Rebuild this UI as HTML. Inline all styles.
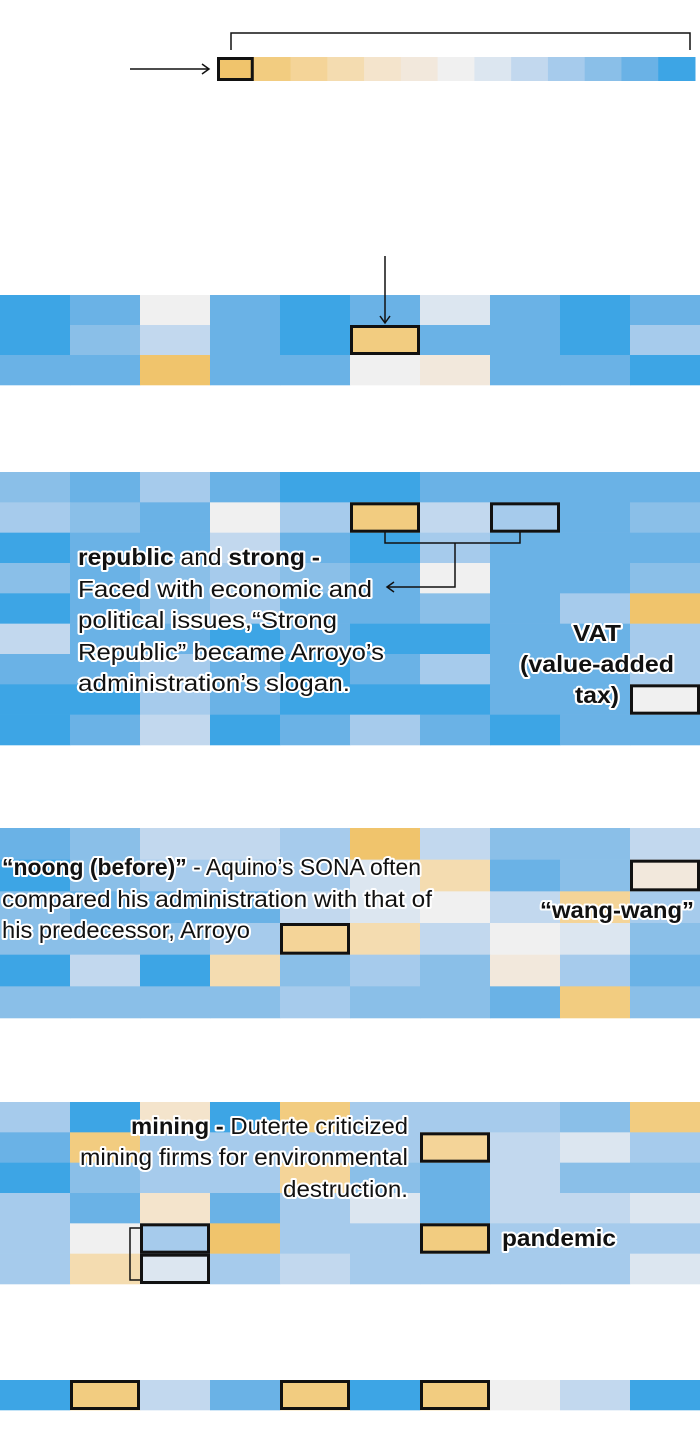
<!DOCTYPE html>
<html><head><meta charset="utf-8"><style>
html,body{margin:0;padding:0;background:#fff;}
svg{display:block;}
.t{font-family:"Liberation Sans",sans-serif;font-size:23px;fill:#111;stroke:#fff;stroke-width:4px;paint-order:stroke;stroke-linejoin:round;}
.b{font-weight:bold;}
</style></head><body>
<svg id="chart" width="700" height="1444">
<g id="legend"></g>
<g id="cells"></g>
<g id="hl"></g>
<g id="ann">
 <line x1="130" y1="69" x2="208" y2="69" stroke="#111" stroke-width="1.5"/>
 <path d="M202,64 L209,69 L202,74" fill="none" stroke="#111" stroke-width="1.5"/>
 <path d="M231,50 V33 H690 V50" fill="none" stroke="#111" stroke-width="1.5"/>
 <line x1="385" y1="256" x2="385" y2="322" stroke="#111" stroke-width="1.5"/>
 <path d="M380,316 L385,323 L390,316" fill="none" stroke="#111" stroke-width="1.5"/>
 <path d="M385,532 V543 H520 V532 M455,543 V587 H388" fill="none" stroke="#111" stroke-width="1.5"/>
 <path d="M394,582 L387,587 L394,592" fill="none" stroke="#111" stroke-width="1.5"/>
 <path d="M140,1228 H130 V1280 H140" fill="none" stroke="#111" stroke-width="1.5"/>
 <text class="t" x="78" y="565" textLength="242" lengthAdjust="spacingAndGlyphs"><tspan class="b">republic</tspan> and <tspan class="b">strong -</tspan></text>
 <text class="t" x="78" y="597" textLength="294" lengthAdjust="spacingAndGlyphs">Faced with economic and</text>
 <text class="t" x="78" y="628" textLength="259" lengthAdjust="spacingAndGlyphs">political issues,“Strong</text>
 <text class="t" x="78" y="660" textLength="306" lengthAdjust="spacingAndGlyphs">Republic” became Arroyo’s</text>
 <text class="t" x="78" y="691" textLength="272" lengthAdjust="spacingAndGlyphs">administration’s slogan.</text>
 <text class="t b" x="573" y="641" textLength="48" lengthAdjust="spacingAndGlyphs">VAT</text>
 <text class="t b" x="520" y="672" textLength="154" lengthAdjust="spacingAndGlyphs">(value-added</text>
 <text class="t b" x="575" y="703" textLength="44" lengthAdjust="spacingAndGlyphs">tax)</text>
 <text class="t" x="2" y="875" textLength="419" lengthAdjust="spacingAndGlyphs"><tspan class="b">“noong (before)”</tspan> - Aquino’s SONA often</text>
 <text class="t" x="2" y="907" textLength="430" lengthAdjust="spacingAndGlyphs">compared his administration with that of</text>
 <text class="t" x="2" y="938" textLength="248" lengthAdjust="spacingAndGlyphs">his predecessor, Arroyo</text>
 <text class="t b" x="540" y="918" textLength="154" lengthAdjust="spacingAndGlyphs">“wang-wang”</text>
 <text class="t" x="131" y="1134" textLength="277" lengthAdjust="spacingAndGlyphs"><tspan class="b">mining -</tspan> Duterte criticized</text>
 <text class="t" x="80" y="1165" textLength="328" lengthAdjust="spacingAndGlyphs">mining firms for environmental</text>
 <text class="t" x="283" y="1197" textLength="125" lengthAdjust="spacingAndGlyphs">destruction.</text>
 <text class="t b" x="502" y="1246" textLength="114" lengthAdjust="spacingAndGlyphs">pandemic</text>
</g>
</svg>
<script>
const palette = ["#f0c46c","#f2cc80","#f4d498","#f4dcb0","#f4e4cc","#f2e8dc","#f0f0f0","#dce6f0","#c2d8ee","#a6cbec","#8abfe8","#6ab2e6","#3da5e5"];
const legendValues = [0,1,2,3,4,5,6,7,8,9,10,11,12];
const s1 = [
 [12,11,6,11,12,11,7,11,12,11],
 [12,10,8,11,12,1,11,11,12,9],
 [11,11,0,11,11,6,5,11,11,12]];
const s2 = [
 [10,11,9,11,12,12,11,11,11,11],
 [9,10,11,6,9,1,8,9,11,10],
 [12,11,11,8,11,12,9,11,11,11],
 [10,11,10,9,10,11,6,11,11,10],
 [12,11,10,9,11,11,10,11,9,0],
 [8,11,11,12,11,12,12,11,11,9],
 [11,11,9,11,12,11,9,11,11,9],
 [12,12,9,11,12,12,12,11,11,6],
 [12,11,8,12,11,9,11,12,11,11]];
const s3 = [
 [11,10,8,8,9,0,8,10,10,8],
 [12,10,9,9,9,7,3,11,10,5],
 [10,11,11,11,8,7,6,8,2,9],
 [10,10,10,9,2,3,8,6,7,10],
 [12,8,12,3,10,9,10,5,9,11],
 [10,10,10,10,9,10,10,11,1,10]];
const s4 = [
 [9,12,4,12,1,9,9,9,10,1],
 [11,1,9,9,9,9,2,8,7,9],
 [12,10,9,9,2,10,11,8,10,10],
 [9,11,4,11,9,7,11,8,8,7],
 [9,6,9,0,9,9,1,9,9,9],
 [9,3,7,9,8,9,9,9,9,7]];
const s5 = [[12,1,8,11,1,12,1,6,8,12]];
const sections = [s1,s2,s3,s4,s5];
const highlights = [[0,1,5],[1,1,5],[1,1,7],[1,7,9],[2,1,9],[2,3,4],[3,1,6],[3,4,6],[3,4,2],[3,5,2],[4,0,1],[4,0,4],[4,0,6]];
// layout
const secY = [295,472,828,1102,1380];
const secH = [90,273,190,182,30];
const colW = 70;
const NS="http://www.w3.org/2000/svg";
function xPos(c){return c*colW;}
function yPos(s,r){return secY[s]+r*secH[s]/sections[s].length;}
function rowH(s){return secH[s]/sections[s].length;}
const lg=document.getElementById('legend');
const lx0=217, lw=(695-217)/legendValues.length;
legendValues.forEach((v,i)=>{
 const r=document.createElementNS(NS,'rect');
 r.setAttribute('x',lx0+i*lw);r.setAttribute('y',57);r.setAttribute('width',lw+0.5);r.setAttribute('height',24);
 r.setAttribute('fill',palette[v]);
 
 
 lg.appendChild(r);
});
const lb=document.createElementNS(NS,'rect');
lb.setAttribute('x',lx0+1.5);lb.setAttribute('y',58.5);lb.setAttribute('width',lw-3);lb.setAttribute('height',21);
lb.setAttribute('fill','none');lb.setAttribute('stroke','#111');lb.setAttribute('stroke-width','3');


lg.appendChild(lb);
const cg=document.getElementById('cells');
sections.forEach((sec,s)=>{
 sec.forEach((row,r)=>{
  row.forEach((v,c)=>{
   const e=document.createElementNS(NS,'rect');
   e.setAttribute('x',xPos(c));e.setAttribute('y',yPos(s,r));
   e.setAttribute('width',colW+0.3);e.setAttribute('height',rowH(s)+0.3);
   e.setAttribute('fill',palette[v]);
   
   
   cg.appendChild(e);
  });
 });
});
const hg=document.getElementById('hl');
highlights.forEach(([s,r,c])=>{
 const e=document.createElementNS(NS,'rect');
 e.setAttribute('x',xPos(c)+1.5);e.setAttribute('y',yPos(s,r)+1.5);
 e.setAttribute('width',colW-3);e.setAttribute('height',rowH(s)-3);
 e.setAttribute('fill','none');e.setAttribute('stroke','#111');e.setAttribute('stroke-width','3');
 
 
 hg.appendChild(e);
});
</script>
</body></html>
